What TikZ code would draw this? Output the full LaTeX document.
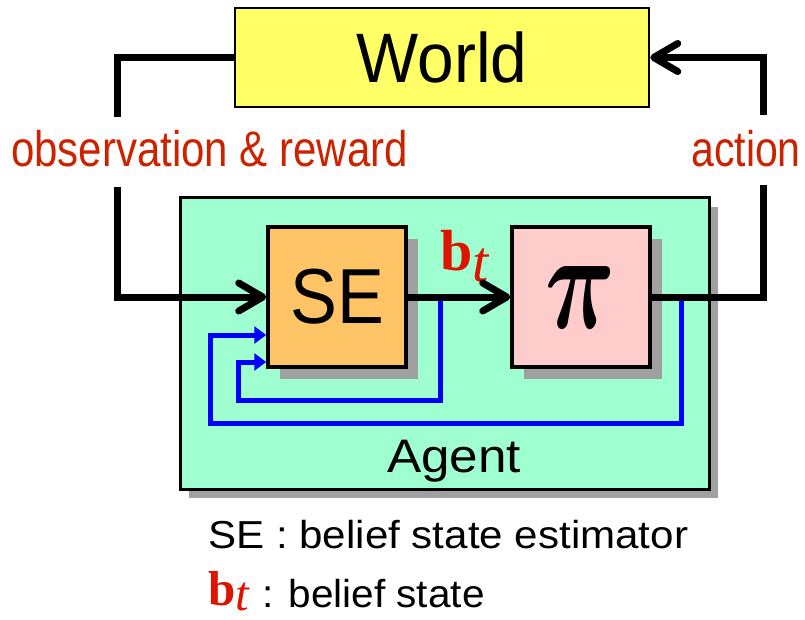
\documentclass[tikz,border=0pt]{standalone}
\usepackage{fontspec}
\usepackage{amsmath}
\usepackage{graphicx}
\setmainfont{Liberation Sans}
\newfontfamily\timesfont{Liberation Serif}
\usetikzlibrary{arrows.meta,shadows}

\definecolor{worldyellow}{RGB}{255,255,102}
\definecolor{agentmint}{RGB}{160,255,208}
\definecolor{seorange}{RGB}{255,196,102}
\definecolor{pipink}{RGB}{255,204,204}
\definecolor{shadowgray}{RGB}{160,160,160}
\definecolor{lblred}{RGB}{204,34,0}
\definecolor{bred}{RGB}{220,20,0}
\definecolor{loopblue}{RGB}{0,0,255}

% text at a given size (pt) with a horizontal stretch factor
\newcommand\sizedtext[3]{\fontsize{#1}{#1}\selectfont\scalebox{#2}[1]{#3}}
% the belief-state symbol b_t: size, drop of the subscript
\newcommand\beliefsym[2]{{\timesfont\fontsize{#1}{#1}\selectfont\bfseries b\raisebox{-#2}{\mdseries\itshape t}}}

\begin{document}
\begin{tikzpicture}[x=1pt,y=-1pt,
  worldbox/.style={draw, line width=2.5pt, fill=worldyellow, minimum width=414pt,
    minimum height=99pt, inner sep=0pt},
  agentbox/.style={draw, line width=3pt, fill=agentmint, minimum width=529pt,
    minimum height=291pt, inner sep=0pt,
    drop shadow={shadow xshift=9pt, shadow yshift=-9pt, fill=shadowgray, opacity=1}},
  unitbox/.style={draw, line width=3.5pt, minimum width=138pt, minimum height=140pt,
    inner sep=0pt,
    drop shadow={shadow xshift=12pt, shadow yshift=-12pt, fill=shadowgray, opacity=1}},
  txt/.style={inner sep=0pt},
  blk/.style={line width=7pt, black},
  blkarrow/.style={blk, -{Straight Barb[length=24pt,width=28pt,round]}},
  bluearrow/.style={line width=5pt, loopblue, -{Triangle[length=12pt,width=17pt]}}
]
\useasboundingbox (0,0) rectangle (805,620);

% boxes
\node[worldbox] (world) at (442,57.5) {\sizedtext{70}{0.94}{World}};
\node[agentbox] (agent) at (444.5,343.5) {};
\node[txt, anchor=base] (agentlabel) at (454,472) {\sizedtext{47}{1.09}{Agent}};
\node[unitbox, fill=seorange] (se) at (337,297) {\sizedtext{78}{0.90}{SE}};
\node[unitbox, fill=pipink] (pi) at (581,297) {\resizebox{70pt}{62pt}{$\boldsymbol{\pi}$}};

% edge labels
\node[txt, anchor=base west, text=lblred] (obs) at (11,167)
  {\sizedtext{50}{0.84}{observation \& reward}};
\node[txt, anchor=base east, text=lblred] (act) at (801,167)
  {\sizedtext{50}{0.82}{action}};
\node[txt, anchor=base west, text=bred] (bt) at (440,270) {\beliefsym{58}{0.2em}};

% feedback loops into the estimator
\coordinate (inStart) at (440,297);
\coordinate (inCorner) at (238,400);
\coordinate (inUp) at (238,362);
\coordinate (outStart) at (681,297);
\coordinate (outCorner) at (210,423);
\coordinate (outUp) at (210,335);
\draw[bluearrow] (inStart) |- (inCorner) -- (inUp) -- (inUp -| se.west);
\draw[bluearrow] (outStart) |- (outCorner) -- (outUp) -- (outUp -| se.west);

% main loop
\coordinate (obsA) at (117,117);
\coordinate (obsB) at (117,187);
\coordinate (actA) at (763,185);
\coordinate (actB) at (763,115);
\draw[blk] (world.west) -| (obsA);
\draw[blkarrow] (obsB) |- (se.west);
\draw[blkarrow] (se.east) -- (pi.west);
\draw[blk] (pi.east) -| (actA);
\draw[blkarrow] (actB) |- (world.east);

% legend
\node[txt, anchor=base west] (leg1) at (208,548)
  {\sizedtext{39}{1.08}{SE : belief state estimator}};
\node[txt, anchor=base west, text=bred] (leg2sym) at (208,605) {\beliefsym{49}{0.12em}};
\node[txt, anchor=base west] (leg2) at (262,607)
  {\sizedtext{39}{1.04}{: belief state}};
\end{tikzpicture}
\end{document}
